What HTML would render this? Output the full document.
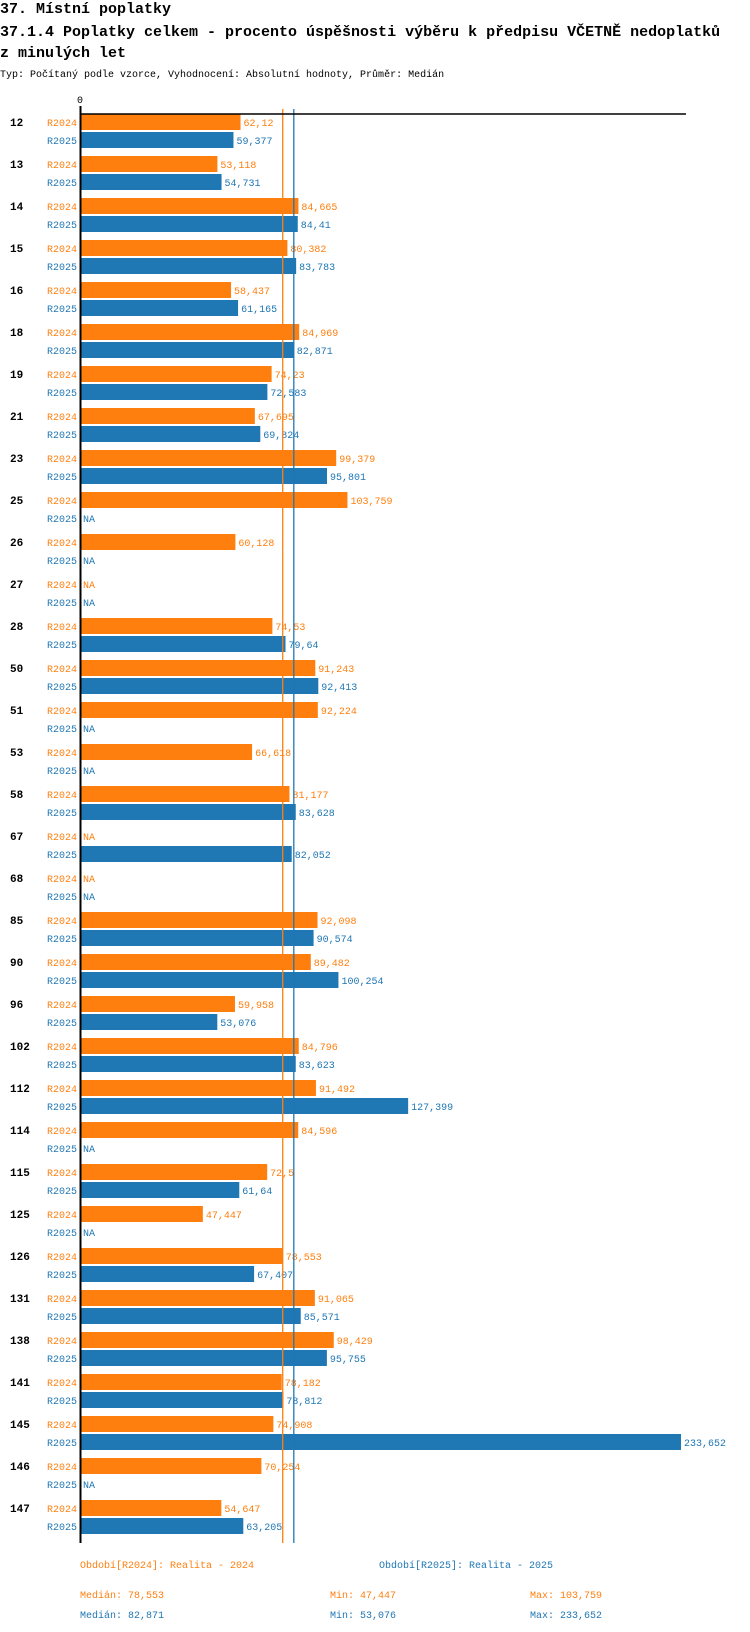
<!DOCTYPE html>
<html><head><meta charset="utf-8"><style>
body{margin:0;background:#fff;width:750px;height:1632px;overflow:hidden;font-family:"Liberation Mono",monospace}
svg{display:block}
</style></head><body>
<svg id="chart" width="750" height="1632" xmlns="http://www.w3.org/2000/svg" font-family="Liberation Mono, monospace">
<text x="0" y="13" font-size="15" font-weight="bold">37. Místní poplatky</text>
<text x="0" y="36" font-size="15" font-weight="bold">37.1.4 Poplatky celkem - procento úspěšnosti výběru k předpisu VČETNĚ nedoplatků</text>
<text x="0" y="57" font-size="15" font-weight="bold">z minulých let</text>
<text x="0" y="77" font-size="10">Typ: Počítaný podle vzorce, Vyhodnocení: Absolutní hodnoty, Průměr: Medián</text>
<g id="plot"></g>
</svg>
<script>
const categories=["12","13","14","15","16","18","19","21","23","25","26","27","28","50","51","53","58","67","68","85","90","96","102","112","114","115","125","126","131","138","141","145","146","147"];
const r2024=[62.12,53.118,84.665,80.382,58.437,84.969,74.23,67.695,99.379,103.759,60.128,null,74.53,91.243,92.224,66.618,81.177,null,null,92.098,89.482,59.958,84.796,91.492,84.596,72.5,47.447,78.553,91.065,98.429,78.182,74.908,70.254,54.647];
const r2025=[59.377,54.731,84.41,83.783,61.165,82.871,72.583,69.824,95.801,null,null,null,79.64,92.413,null,null,83.628,82.052,null,90.574,100.254,53.076,83.623,127.399,null,61.64,null,67.407,85.571,95.755,78.812,233.652,null,63.205];
const seriesNames=["R2024","R2025"];
const seriesDesc=["Období[R2024]: Realita - 2024","Období[R2025]: Realita - 2025"];
const medians=[78.553,82.871];
const mins=[47.447,53.076];
const maxs=[103.759,233.652];

const NS="http://www.w3.org/2000/svg";
const colors=["#ff7f0e","#1f77b4"];
const x0=81, k=600/233.652, top0=114, pitch=42, bh=16;
const xs=v=>x0+v*k;
const fmt=v=>String(v).replace('.',',');
const g=document.getElementById('plot');
function el(tag,attrs,txt){const e=document.createElementNS(NS,tag);for(const a in attrs)e.setAttribute(a,attrs[a]);if(txt!=null)e.textContent=txt;g.appendChild(e);return e;}
const yBottom=top0+(categories.length-1)*pitch+2*bh+2+9;
categories.forEach((c,i)=>{
  const y=top0+i*pitch;
  const lab=el('text',{x:10,y:y+12,'font-size':11,'font-weight':'bold'},c);
  
  
  [r2024,r2025].forEach((arr,s)=>{
    const yy=y+s*(bh+2);
    const sl=el('text',{x:77,y:yy+12,'font-size':10,fill:colors[s],'text-anchor':'end'},seriesNames[s]);
    
    
    const v=arr[i];
    if(v==null){
      const na=el('text',{x:x0+2,y:yy+12,'font-size':10,fill:colors[s]},'NA');
      
      
    }else{
      const r=el('rect',{x:x0,y:yy,width:xs(v)-x0,height:bh,fill:colors[s]});
      
      
      const t=el('text',{x:xs(v)+3,y:yy+12,'font-size':10,fill:colors[s]},fmt(v));
      
      
    }
  });
});
medians.forEach((m,s)=>{
  const l=el('line',{x1:xs(m),x2:xs(m),y1:109,y2:yBottom,stroke:colors[s],'stroke-width':1.3});
  
  
});
const ax=el('line',{x1:x0,x2:686,y1:114,y2:114,stroke:'#000','stroke-width':1.5});


const ay=el('line',{x1:x0-0.5,x2:x0-0.5,y1:106,y2:yBottom,stroke:'#000','stroke-width':2});


const z=el('text',{x:x0-1,y:103,'font-size':10,'text-anchor':'middle'},'0');


const legX=[80,379];
seriesDesc.forEach((d,s)=>{
  const t=el('text',{x:legX[s],y:1568,'font-size':10,fill:colors[s]},d);
  
  
  const yy=1598+s*20;
  const a=el('text',{x:80,y:yy,'font-size':10,fill:colors[s]},'Medián: '+fmt(medians[s]));
  
  
  const b=el('text',{x:330,y:yy,'font-size':10,fill:colors[s]},'Min: '+fmt(mins[s]));
  
  
  const c=el('text',{x:530,y:yy,'font-size':10,fill:colors[s]},'Max: '+fmt(maxs[s]));
  
  
});
</script>
</body></html>
